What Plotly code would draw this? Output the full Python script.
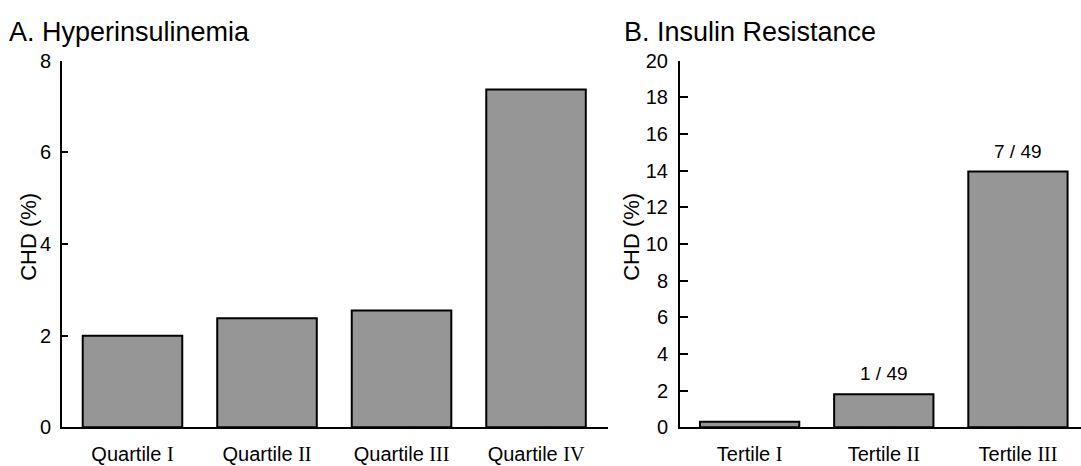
import plotly.graph_objects as go

# Panel A: CHD incidence by fasting-insulin quartile
quartiles = ["Quartile I", "Quartile II", "Quartile III", "Quartile IV"]
chd_quartile = [2.0, 2.38, 2.55, 7.37]

# Panel B: CHD incidence by insulin-resistance tertile
tertiles = ["Tertile I", "Tertile II", "Tertile III"]
chd_tertile = [0.3, 1.8, 13.95]
tertile_counts = ["", "1 / 49", "7 / 49"]

y_ticks_a = [0, 2, 4, 6, 8]
y_ticks_b = list(range(0, 21, 2))

W, H = 1081, 466
FONT = "Liberation Sans, Arial, sans-serif"
SERIF = "Liberation Serif, Times New Roman, serif"
BAR_FILL = "#969696"


def roman_label(cat):
    # set the roman numeral in a serif face, the word in sans
    word, num = cat.rsplit(" ", 1)
    return f"{word} <span style='font-family:{SERIF}'>{num}</span>"


fig = go.Figure()

fig.add_trace(go.Bar(
    x=quartiles, y=chd_quartile, xaxis="x", yaxis="y",
    marker=dict(color=BAR_FILL, line=dict(color="black", width=2)),
    width=0.74, showlegend=False, hoverinfo="skip",
))
fig.add_trace(go.Bar(
    x=tertiles, y=chd_tertile, xaxis="x2", yaxis="y2",
    marker=dict(color=BAR_FILL, line=dict(color="black", width=2)),
    width=0.74, showlegend=False, hoverinfo="skip",
))


def px_x(p):
    return p / W


def px_y(p):
    return 1 - p / H


y_dom = [px_y(437), px_y(52)]

axis_common = dict(
    showline=True, linecolor="black", linewidth=2,
    showgrid=False, zeroline=False,
    tickfont=dict(family=FONT, size=20, color="black"),
)

fig.update_layout(
    width=W, height=H,
    margin=dict(l=0, r=0, t=0, b=0),
    plot_bgcolor="white", paper_bgcolor="white",
    font=dict(family=FONT, color="black"),
    xaxis=dict(
        domain=[px_x(62), px_x(608)], anchor="y",
        range=[-0.524, 3.535], ticks="", ticklabelstandoff=8,
        tickvals=quartiles, ticktext=[roman_label(c) for c in quartiles],
        **axis_common,
    ),
    yaxis=dict(
        domain=y_dom, anchor="x",
        range=[0, 8], tickvals=y_ticks_a,
        ticks="inside", ticklen=6, tickwidth=2, tickcolor="black",
        ticklabelstandoff=5,
        **axis_common,
    ),
    xaxis2=dict(
        domain=[px_x(680), 1.0], anchor="y2",
        range=[-0.519, 2.47], ticks="", ticklabelstandoff=8,
        tickvals=tertiles, ticktext=[roman_label(c) for c in tertiles],
        **axis_common,
    ),
    yaxis2=dict(
        domain=y_dom, anchor="x2",
        range=[0, 20], tickvals=y_ticks_b,
        ticks="inside", ticklen=8, tickwidth=2, tickcolor="black",
        ticklabelstandoff=6,
        **axis_common,
    ),
)

annotations = [
    dict(text="A. Hyperinsulinemia", xref="paper", yref="paper",
         x=px_x(7), y=px_y(22), xanchor="left", yanchor="middle",
         showarrow=False, font=dict(family=FONT, size=27, color="black")),
    dict(text="B. Insulin Resistance", xref="paper", yref="paper",
         x=px_x(622), y=px_y(22), xanchor="left", yanchor="middle",
         showarrow=False, font=dict(family=FONT, size=27, color="black")),
    # y-axis titles
    dict(text="CHD (%)", xref="paper", yref="paper",
         x=px_x(29), y=px_y(237), xanchor="center", yanchor="middle",
         textangle=-90, showarrow=False,
         font=dict(family=FONT, size=22, color="black")),
    dict(text="CHD (%)", xref="paper", yref="paper",
         x=px_x(632), y=px_y(237), xanchor="center", yanchor="middle",
         textangle=-90, showarrow=False,
         font=dict(family=FONT, size=22, color="black")),
]
for cat, val, lab in zip(tertiles, chd_tertile, tertile_counts):
    if lab:
        annotations.append(dict(
            text=lab, x=cat, y=val, xref="x2", yref="y2",
            xanchor="center", yanchor="bottom", yshift=8,
            showarrow=False, font=dict(family=FONT, size=19, color="black"),
        ))
fig.update_layout(annotations=annotations)

fig.write_html("out.html")
